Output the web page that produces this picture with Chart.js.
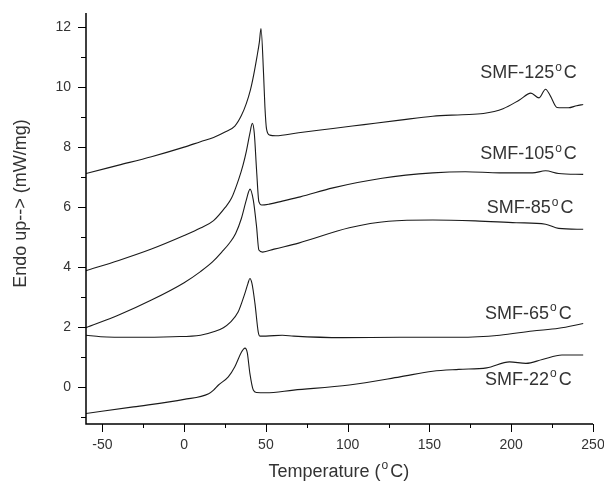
<!DOCTYPE html>
<html>
<head>
<meta charset="utf-8">
<script src="https://cdn.jsdelivr.net/npm/chart.js@4"></script>
<style>
  html, body { margin: 0; padding: 0; background: #fff; }
  #wrap { width: 604px; height: 487px; }
</style>
</head>
<body>
<div id="wrap"><canvas id="dsc"></canvas></div>
<script>
// DSC curves (temperature in °C, heat flow in mW/mg)
const temps125 = [-60, -40, -20, 0, 10, 18, 25, 31, 35, 38, 40.5, 42.5, 44.5, 46, 47, 48.6, 49.4, 50.4, 52.4, 56, 70, 91, 110, 132, 152, 170, 183, 195, 205, 212, 217, 221, 224, 228, 235, 240, 244];
const vals125  = [7.12, 7.4, 7.68, 8.0, 8.18, 8.32, 8.5, 8.7, 9.05, 9.45, 9.9, 10.4, 11.0, 11.5, 11.95, 10.4, 9.34, 8.6, 8.4, 8.38, 8.48, 8.62, 8.75, 8.9, 9.03, 9.08, 9.12, 9.28, 9.57, 9.8, 9.64, 9.93, 9.7, 9.32, 9.31, 9.38, 9.42];

const temps105 = [-60, -40, -20, 0, 10, 18, 25, 29, 33.5, 36, 38, 40.2, 41.7, 42.9, 44.3, 45.7, 47.4, 52, 60, 71, 91, 121, 152, 172, 193, 213, 221, 229, 244];
const vals105  = [3.88, 4.22, 4.6, 5.05, 5.3, 5.55, 5.98, 6.3, 6.95, 7.4, 7.85, 8.46, 8.79, 8.46, 7.23, 6.18, 6.07, 6.1, 6.2, 6.34, 6.64, 6.96, 7.14, 7.18, 7.14, 7.14, 7.21, 7.12, 7.09];

const temps85 = [-60, -40, -20, 0, 10, 17.5, 23, 28, 31.5, 35, 38, 40.3, 42.3, 44.3, 45.7, 48, 55, 70, 101, 125, 152, 178, 203, 221, 229, 244];
const vals85  = [1.98, 2.4, 2.9, 3.48, 3.85, 4.18, 4.5, 4.82, 5.12, 5.62, 6.23, 6.6, 6.23, 5.34, 4.57, 4.5, 4.6, 4.8, 5.31, 5.53, 5.57, 5.54, 5.48, 5.43, 5.29, 5.26];

const temps65 = [-60, -51, -31, -7, 10, 19, 24, 28, 33, 37, 39, 40.2, 41.5, 43.3, 45.3, 46.3, 50, 60, 67, 97, 132, 168, 193, 213, 229, 244];
const vals65  = [1.73, 1.68, 1.66, 1.68, 1.73, 1.86, 1.98, 2.15, 2.5, 3.1, 3.45, 3.62, 3.45, 2.79, 1.84, 1.7, 1.7, 1.73, 1.7, 1.65, 1.66, 1.66, 1.73, 1.87, 1.96, 2.12];

const temps22 = [-60, -31, 0, 15, 18, 21, 27, 31, 35.2, 37.2, 38.6, 40.2, 42.3, 44.3, 50, 67, 101, 132, 152, 168, 185, 199, 209, 219, 231, 244];
const vals22  = [-0.88, -0.66, -0.41, -0.22, -0.1, 0.07, 0.34, 0.68, 1.18, 1.3, 1.15, 0.46, -0.1, -0.18, -0.19, -0.1, 0.07, 0.34, 0.53, 0.59, 0.64, 0.84, 0.79, 0.92, 1.07, 1.07];

const seriesNames = ['SMF-125', 'SMF-105', 'SMF-85', 'SMF-65', 'SMF-22'];
// where each curve's label sits (left edge temperature, baseline value)
const labelTemps = [181, 181, 185, 184, 184];
const labelVals  = [10.3, 7.6, 5.8, 2.27, 0.07];

const xMajor = [-50, 0, 50, 100, 150, 200, 250];
const xMinor = [-25, 25, 75, 125, 175, 225];
const yMajor = [0, 2, 4, 6, 8, 10, 12];
const yMinor = [-1, 1, 3, 5, 7, 9, 11];

const curves = [
    [temps125, vals125],
    [temps105, vals105],
    [temps85, vals85],
    [temps65, vals65],
    [temps22, vals22]
];

const FONT = '"Liberation Sans", Arial, sans-serif';
const INK = '#333';

// writes "base" + superscript o + "C", as in the original figure
function drawDegreeText(ctx, base, x, y, size) {
    ctx.font = size + 'px ' + FONT;
    ctx.fillText(base, x, y);
    let cx = x + ctx.measureText(base).width;
    ctx.font = Math.round(size * 0.68) + 'px ' + FONT;
    ctx.fillText('o', cx + 1, y - size * 0.42);
    cx += ctx.measureText('o').width + 3;
    ctx.font = size + 'px ' + FONT;
    ctx.fillText('C', cx, y);
    return cx + ctx.measureText('C').width;
}

const frame = {
    id: 'frame',
    afterDraw(chart) {
        const ctx = chart.ctx;
        const xs = chart.scales.x, ys = chart.scales.y;
        const area = chart.chartArea;
        ctx.save();

        // axis lines (left + bottom only)
        ctx.strokeStyle = '#000';
        ctx.lineWidth = 1.5;
        ctx.beginPath();
        ctx.moveTo(area.left, area.top);
        ctx.lineTo(area.left, area.bottom);
        ctx.lineTo(area.right, area.bottom);
        ctx.stroke();

        // tick marks
        ctx.lineWidth = 1;
        ctx.beginPath();
        yMajor.forEach(v => { const p = Math.round(ys.getPixelForValue(v)) + 0.5; ctx.moveTo(area.left - 8, p); ctx.lineTo(area.left, p); });
        yMinor.forEach(v => { const p = Math.round(ys.getPixelForValue(v)) + 0.5; ctx.moveTo(area.left - 5, p); ctx.lineTo(area.left, p); });
        xMajor.forEach(v => { const p = Math.round(xs.getPixelForValue(v)) + 0.5; ctx.moveTo(p, area.bottom); ctx.lineTo(p, area.bottom + 8); });
        xMinor.forEach(v => { const p = Math.round(xs.getPixelForValue(v)) + 0.5; ctx.moveTo(p, area.bottom); ctx.lineTo(p, area.bottom + 4); });
        ctx.stroke();

        ctx.fillStyle = INK;
        ctx.textBaseline = 'alphabetic';
        ctx.textAlign = 'left';

        // curve labels
        seriesNames.forEach((name, i) => {
            const lx = xs.getPixelForValue(labelTemps[i]);
            const ly = ys.getPixelForValue(labelVals[i]);
            drawDegreeText(ctx, name, lx, ly, 18);
        });

        // x title: Temperature (°C)
        ctx.font = '18px ' + FONT;
        const base = 'Temperature (';
        const w = ctx.measureText(base).width + 30;
        const tx = (area.left + area.right) / 2 - w / 2;
        const end = drawDegreeText(ctx, base, tx, 477, 18);
        ctx.font = '18px ' + FONT;
        ctx.fillText(')', end, 477);

        // y title
        ctx.translate(26, (area.top + area.bottom) / 2 - 15);
        ctx.rotate(-Math.PI / 2);
        ctx.textAlign = 'center';
        ctx.fillText('Endo up--> (mW/mg)', 0, 0);

        ctx.restore();
    }
};

new Chart(document.getElementById('dsc'), {
    type: 'line',
    data: {
        datasets: curves.map((c, i) => ({
            label: seriesNames[i],
            data: c[0].map((t, j) => ({ x: t, y: c[1][j] })),
            borderColor: '#1a1a1a',
            borderWidth: 1.1,
            pointRadius: 0,
            fill: false,
            cubicInterpolationMode: 'monotone'
        }))
    },
    options: {
        responsive: true,
        maintainAspectRatio: false,
        animation: false,
        layout: { padding: { top: 13, right: 11, left: 0, bottom: 0 } },
        plugins: { legend: { display: false }, tooltip: { enabled: false } },
        scales: {
            x: {
                type: 'linear',
                min: -60,
                max: 250,
                grid: { display: false, drawTicks: false },
                border: { display: false },
                afterBuildTicks: scale => { scale.ticks = xMajor.map(v => ({ value: v })); },
                afterFit: scale => {
                    scale.height = 63;
                    scale.paddingLeft = 0;
                    scale.paddingRight = 0;
                },
                ticks: { padding: 13, maxRotation: 0, color: INK, font: { family: FONT, size: 14 } }
            },
            y: {
                min: -1.23,
                max: 12.47,
                grid: { display: false, drawTicks: false },
                border: { display: false },
                afterBuildTicks: scale => { scale.ticks = yMajor.map(v => ({ value: v })); },
                afterFit: scale => {
                    scale.width = 86;
                    scale.paddingTop = 0;
                    scale.paddingBottom = 0;
                },
                ticks: { padding: 15, color: INK, font: { family: FONT, size: 14 } }
            }
        }
    },
    plugins: [frame]
});
</script>
</body>
</html>
